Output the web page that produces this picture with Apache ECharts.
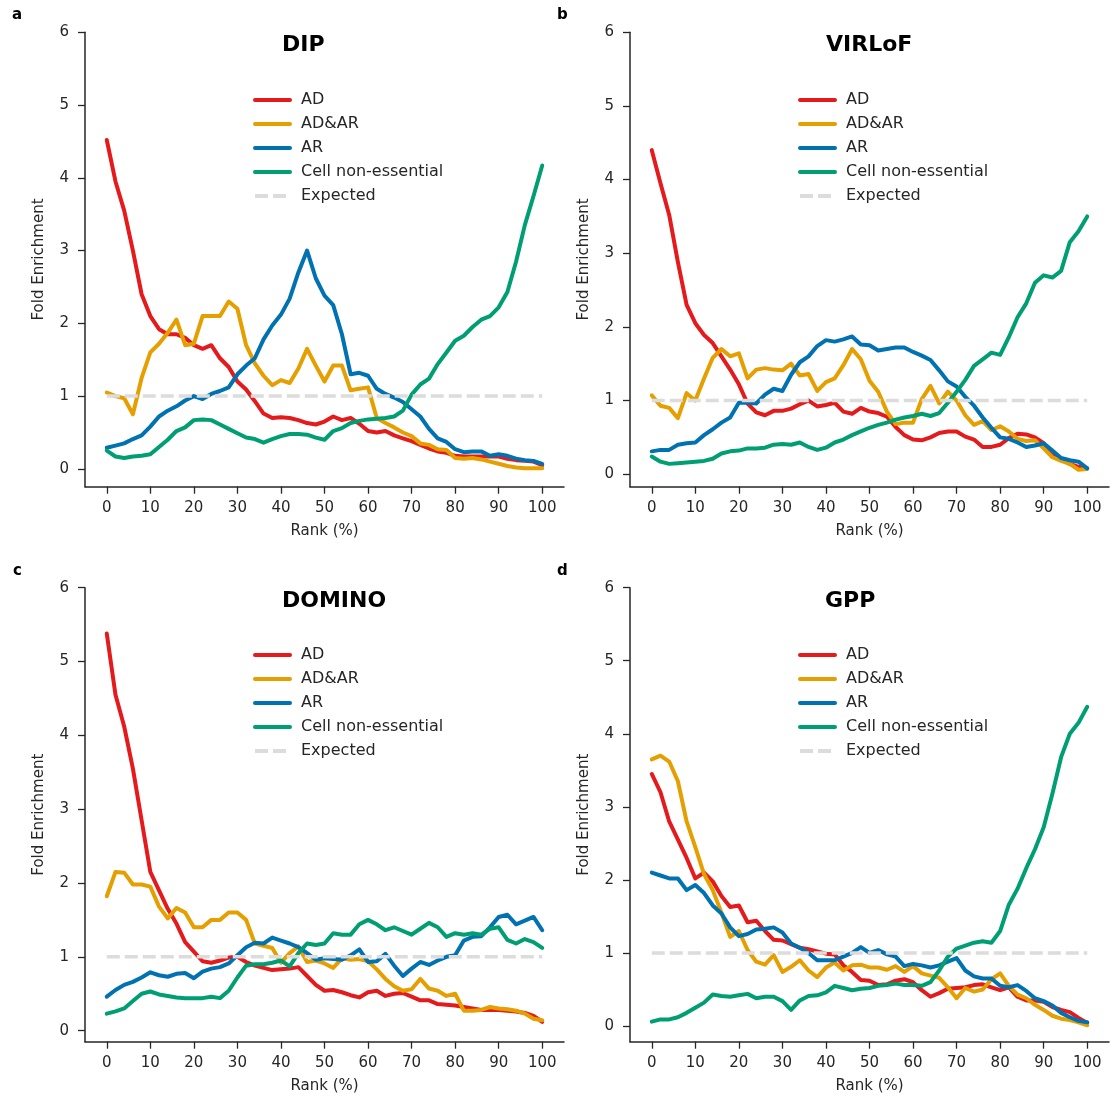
<!DOCTYPE html>
<html><head><meta charset="utf-8">
<script src="https://cdn.jsdelivr.net/npm/echarts@6/dist/echarts.min.js"></script>
<style>html,body{margin:0;padding:0;background:#fff}#c{width:1112px;height:1100px}</style>
</head><body><div id="c"></div>
<script>
// ---------- data ----------
const rank = [0,2,4,6,8,10,12,14,16,18,20,22,24,26,28,30,32,34,36,38,40,42,44,46,48,50,52,54,56,58,60,62,64,66,68,70,72,74,76,78,80,82,84,86,88,90,92,94,96,98,100];
const seriesNames = ['AD','AD&AR','AR','Cell non-essential'];
const expectedName = 'Expected';
const expectedLevel = 1;
const panelTitles = ['DIP','VIRLoF','DOMINO','GPP'];
const panelLetters = ['a','b','c','d'];
const xTicks = [0,10,20,30,40,50,60,70,80,90,100];
const yTicks = [0,1,2,3,4,5,6];

// DIP
const dipAD   = [4.52,3.95,3.55,3.0,2.4,2.1,1.92,1.85,1.85,1.8,1.7,1.65,1.7,1.52,1.4,1.2,1.09,0.93,0.76,0.7,0.71,0.7,0.67,0.63,0.61,0.65,0.72,0.67,0.7,0.62,0.52,0.5,0.52,0.46,0.42,0.38,0.33,0.28,0.24,0.22,0.18,0.17,0.17,0.17,0.17,0.17,0.14,0.12,0.11,0.1,0.05];
const dipADAR = [1.05,1.0,0.97,0.75,1.25,1.6,1.72,1.87,2.05,1.7,1.72,2.1,2.1,2.1,2.3,2.2,1.7,1.45,1.28,1.15,1.22,1.18,1.38,1.65,1.42,1.2,1.42,1.42,1.08,1.1,1.12,0.7,0.63,0.57,0.5,0.45,0.35,0.33,0.27,0.26,0.15,0.14,0.15,0.13,0.1,0.07,0.04,0.02,0.01,0.01,0.01];
const dipAR   = [0.29,0.32,0.35,0.41,0.46,0.58,0.72,0.8,0.86,0.94,1.0,0.96,1.03,1.07,1.12,1.3,1.42,1.52,1.78,1.97,2.12,2.34,2.7,3.0,2.62,2.38,2.25,1.85,1.3,1.32,1.28,1.1,1.03,0.98,0.92,0.82,0.72,0.55,0.42,0.37,0.27,0.23,0.24,0.24,0.18,0.2,0.18,0.14,0.12,0.11,0.07];
const dipCell = [0.25,0.17,0.15,0.17,0.18,0.2,0.3,0.4,0.52,0.57,0.67,0.68,0.67,0.61,0.55,0.49,0.43,0.41,0.36,0.41,0.45,0.48,0.48,0.47,0.43,0.4,0.52,0.56,0.63,0.66,0.68,0.69,0.7,0.72,0.8,1.02,1.16,1.24,1.44,1.6,1.76,1.83,1.95,2.05,2.1,2.22,2.43,2.85,3.35,3.75,4.17];
// VIRLoF
const virAD   = [4.4,3.95,3.52,2.88,2.3,2.05,1.89,1.78,1.6,1.42,1.22,0.96,0.84,0.8,0.86,0.86,0.89,0.95,1.0,0.92,0.94,0.97,0.85,0.82,0.9,0.85,0.83,0.78,0.64,0.53,0.47,0.46,0.5,0.56,0.58,0.58,0.51,0.47,0.37,0.37,0.4,0.49,0.55,0.54,0.5,0.42,0.27,0.2,0.14,0.1,0.08];
const virADAR = [1.07,0.93,0.9,0.76,1.1,1.0,1.3,1.58,1.7,1.6,1.64,1.3,1.42,1.44,1.42,1.41,1.5,1.34,1.36,1.13,1.25,1.3,1.48,1.7,1.56,1.27,1.12,0.85,0.68,0.7,0.7,1.02,1.2,0.96,1.12,1.0,0.8,0.67,0.72,0.6,0.65,0.58,0.48,0.45,0.46,0.35,0.23,0.18,0.14,0.06,0.07];
const virAR   = [0.31,0.33,0.33,0.4,0.42,0.43,0.53,0.61,0.7,0.77,0.97,0.97,0.96,1.08,1.16,1.13,1.35,1.52,1.6,1.74,1.82,1.8,1.83,1.87,1.76,1.75,1.68,1.7,1.72,1.72,1.66,1.61,1.55,1.41,1.26,1.19,1.05,0.93,0.77,0.63,0.5,0.48,0.43,0.37,0.39,0.42,0.32,0.22,0.19,0.17,0.08];
const virCell = [0.24,0.17,0.14,0.15,0.16,0.17,0.18,0.21,0.28,0.31,0.32,0.35,0.35,0.36,0.4,0.41,0.4,0.43,0.37,0.33,0.36,0.43,0.47,0.53,0.58,0.63,0.67,0.7,0.74,0.77,0.79,0.82,0.79,0.83,0.97,1.12,1.28,1.47,1.56,1.65,1.62,1.86,2.13,2.32,2.6,2.7,2.67,2.76,3.15,3.3,3.5];
// DOMINO
const domAD   = [5.38,4.55,4.12,3.55,2.85,2.15,1.9,1.65,1.45,1.2,1.07,0.94,0.92,0.95,0.99,1.0,0.93,0.88,0.85,0.82,0.83,0.84,0.86,0.74,0.62,0.54,0.55,0.52,0.48,0.45,0.52,0.54,0.47,0.5,0.51,0.46,0.41,0.41,0.36,0.35,0.34,0.32,0.3,0.28,0.28,0.28,0.27,0.26,0.24,0.2,0.12];
const domADAR = [1.82,2.15,2.14,1.98,1.98,1.95,1.68,1.52,1.66,1.6,1.4,1.4,1.5,1.5,1.6,1.6,1.5,1.18,1.15,1.12,0.92,1.05,1.14,0.93,0.95,0.91,0.85,0.98,0.96,0.97,0.94,0.83,0.7,0.6,0.54,0.56,0.7,0.57,0.54,0.47,0.5,0.27,0.27,0.28,0.32,0.3,0.29,0.27,0.23,0.16,0.14];
const domAR   = [0.46,0.55,0.62,0.66,0.72,0.79,0.75,0.73,0.77,0.78,0.71,0.8,0.84,0.86,0.91,1.02,1.13,1.19,1.18,1.26,1.22,1.18,1.13,1.05,0.96,0.98,0.97,0.96,1.02,1.1,0.93,0.94,1.04,0.88,0.74,0.84,0.93,0.89,0.95,1.0,1.02,1.22,1.27,1.28,1.4,1.54,1.57,1.44,1.49,1.54,1.36];
const domCell = [0.23,0.26,0.3,0.4,0.5,0.53,0.49,0.47,0.45,0.44,0.44,0.44,0.46,0.44,0.54,0.72,0.88,0.9,0.9,0.92,0.95,0.87,1.05,1.18,1.16,1.18,1.32,1.3,1.3,1.44,1.5,1.44,1.36,1.4,1.35,1.3,1.38,1.46,1.4,1.27,1.32,1.3,1.32,1.3,1.38,1.4,1.23,1.18,1.24,1.2,1.12];
// GPP
const gppAD   = [3.45,3.2,2.8,2.55,2.3,2.02,2.1,1.98,1.78,1.63,1.65,1.42,1.44,1.3,1.18,1.17,1.12,1.07,1.05,1.02,0.99,0.98,0.83,0.74,0.63,0.62,0.56,0.57,0.62,0.64,0.6,0.49,0.4,0.45,0.51,0.52,0.53,0.56,0.57,0.53,0.49,0.53,0.4,0.35,0.35,0.33,0.26,0.22,0.19,0.11,0.04];
const gppADAR = [3.65,3.7,3.62,3.35,2.8,2.45,2.08,1.86,1.55,1.22,1.3,1.04,0.88,0.84,0.97,0.74,0.81,0.9,0.76,0.67,0.8,0.87,0.76,0.83,0.84,0.8,0.8,0.77,0.82,0.74,0.82,0.72,0.69,0.66,0.53,0.38,0.52,0.47,0.5,0.64,0.72,0.55,0.43,0.38,0.29,0.22,0.14,0.1,0.08,0.05,0.01];
const gppAR   = [2.1,2.06,2.02,2.02,1.86,1.93,1.82,1.65,1.54,1.35,1.23,1.26,1.32,1.33,1.35,1.28,1.13,1.07,1.0,0.9,0.9,0.9,0.95,1.0,1.08,1.0,1.04,0.98,0.95,0.82,0.85,0.83,0.8,0.83,0.88,0.93,0.76,0.68,0.65,0.65,0.55,0.53,0.56,0.48,0.38,0.34,0.28,0.18,0.12,0.07,0.05];
const gppCell = [0.06,0.09,0.09,0.12,0.18,0.25,0.32,0.43,0.41,0.4,0.42,0.44,0.38,0.4,0.4,0.34,0.22,0.35,0.41,0.42,0.46,0.55,0.52,0.49,0.51,0.52,0.55,0.56,0.58,0.56,0.56,0.55,0.6,0.76,0.95,1.06,1.1,1.14,1.16,1.14,1.3,1.66,1.88,2.16,2.42,2.72,3.18,3.68,4.0,4.15,4.37];

const panelData = [
  [dipAD, dipADAR, dipAR, dipCell],
  [virAD, virADAR, virAR, virCell],
  [domAD, domADAR, domAR, domCell],
  [gppAD, gppADAR, gppAR, gppCell]
];
const yMins = [-0.245, -0.17, -0.15, -0.215];

// ---------- style / layout ----------
const colors = ['#E41A1C', '#E69F00', '#0072B2', '#009E73'];
const expectedColor = '#dcdcdc';
const FONT = 'DejaVu Sans';
const INK = '#262626';
const grids = [
  {left: 85,  top: 32.3,  width: 479, height: 454.4},
  {left: 630, top: 32.3,  width: 479, height: 454.4},
  {left: 85,  top: 587.7, width: 479, height: 454},
  {left: 630, top: 587.7, width: 479, height: 454}
];
const titlePos = [{left: 282, top: 34}, {left: 826, top: 34}, {left: 282, top: 590}, {left: 825, top: 590}];
const letterPos = [{left: 12, top: 8}, {left: 557, top: 8}, {left: 13, top: 564}, {left: 557, top: 564}];
const legendPos = [{left: 253, top: 92}, {left: 798, top: 92}, {left: 253, top: 647}, {left: 798, top: 647}];

const option = {
  animation: false,
  backgroundColor: '#fff',
  textStyle: {fontFamily: FONT},
  title: [],
  legend: [],
  grid: grids.map(g => Object.assign({containLabel: false}, g)),
  xAxis: [],
  yAxis: [],
  series: []
};

for (let p = 0; p < 4; p++) {
  option.title.push({text: panelTitles[p], left: titlePos[p].left, top: titlePos[p].top, padding: 0,
    textStyle: {fontFamily: FONT, fontSize: 22, fontWeight: 'bold', color: '#000'}});
  option.title.push({text: panelLetters[p], left: letterPos[p].left, top: letterPos[p].top, padding: 0,
    textStyle: {fontFamily: FONT, fontSize: 15, fontWeight: 'bold', color: '#000'}});
  option.legend.push({
    left: legendPos[p].left, top: legendPos[p].top, orient: 'vertical', padding: 0,
    itemWidth: 35, itemHeight: 16, itemGap: 8, selectedMode: false,
    itemStyle: {opacity: 0},
    lineStyle: {width: 4},
    data: seriesNames.concat([expectedName]),
    textStyle: {fontFamily: FONT, fontSize: 16, color: INK, padding: [0, 0, 0, 6]}
  });
  option.xAxis.push({
    gridIndex: p, type: 'value', min: -5, max: 105,
    name: 'Rank (%)', nameLocation: 'middle', nameGap: 37,
    nameTextStyle: {fontFamily: FONT, fontSize: 15, color: INK},
    axisLine: {show: true, onZero: false, lineStyle: {color: INK, width: 1.5}},
    axisTick: {show: true, length: 7, customValues: xTicks, lineStyle: {color: INK, width: 1.3}},
    axisLabel: {customValues: xTicks, fontFamily: FONT, fontSize: 15, color: INK, margin: 14},
    splitLine: {show: false}
  });
  option.yAxis.push({
    gridIndex: p, type: 'value', min: yMins[p], max: 6,
    name: 'Fold Enrichment', nameLocation: 'middle', nameGap: 38,
    nameTextStyle: {fontFamily: FONT, fontSize: 15, color: INK},
    axisLine: {show: true, onZero: false, lineStyle: {color: INK, width: 1.5}},
    axisTick: {show: true, length: 7, customValues: yTicks, lineStyle: {color: INK, width: 1.3}},
    axisLabel: {customValues: yTicks, fontFamily: FONT, fontSize: 15, color: INK, margin: 16},
    splitLine: {show: false}
  });
  for (let i = 0; i < 4; i++) {
    const vals = panelData[p][i];
    option.series.push({
      type: 'line', name: seriesNames[i], xAxisIndex: p, yAxisIndex: p,
      data: rank.map((r, k) => [r, vals[k]]),
      symbol: 'none', showSymbol: false, z: 2 + i,
      lineStyle: {color: colors[i], width: 4, cap: 'round', join: 'round'},
      itemStyle: {color: colors[i]}
    });
  }
  option.series.push({
    type: 'line', name: expectedName, xAxisIndex: p, yAxisIndex: p,
    data: [[rank[0], expectedLevel], [rank[rank.length - 1], expectedLevel]],
    symbol: 'none', showSymbol: false, z: 10,
    lineStyle: {color: expectedColor, width: 3.5, type: [13, 5]},
    itemStyle: {color: expectedColor}
  });
}

const chart = echarts.init(document.getElementById('c'), null, {renderer: 'canvas'});
chart.setOption(option);
</script>
</body></html>
